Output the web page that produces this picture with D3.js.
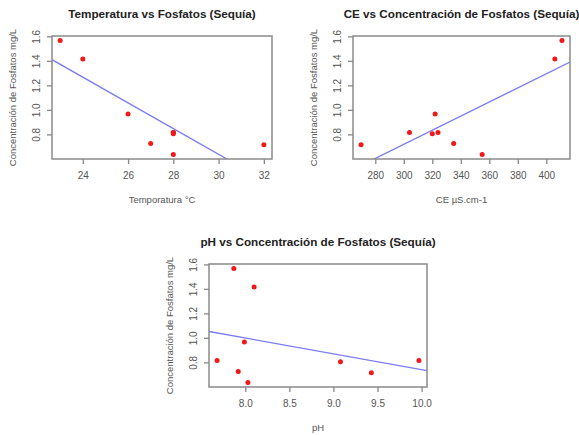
<!DOCTYPE html>
<html>
<head>
    <script src="https://cdn.jsdelivr.net/npm/d3@7"></script>
    <style>
        html, body {
            padding: 0;
            margin: 0;
            background: white;
        }
        text {
            font-family: "Liberation Sans", Arial, sans-serif;
        }
    </style>
</head>
<body>

<script>
    var width = 579;
    var height = 435;

    // data (same samples, same order, in every panel)
    var fosfatos = [1.57, 1.42, 0.97, 0.73, 0.82, 0.82, 0.81, 0.64, 0.72];
    var temperatura = [23, 24, 26, 27, 28, 28, 28, 28, 32];
    var ce = [411, 406, 322, 335, 304, 324, 320, 355, 270];
    var ph = [7.87, 8.10, 7.99, 7.92, 7.68, 9.97, 9.08, 8.03, 9.43];

    var yTicks = [0.8, 1.0, 1.2, 1.4, 1.6];
    var tempTicks = [24, 26, 28, 30, 32];
    var ceTicks = [280, 300, 320, 340, 360, 380, 400];
    var phTicks = [8.0, 8.5, 9.0, 9.5, 10.0];

    var titles = ["Temperatura vs Fosfatos (Sequía)",
                  "CE vs Concentración de Fosfatos (Sequía)",
                  "pH vs Concentración de Fosfatos (Sequía)"];
    var xLabels = ["Temporatura °C", "CE µS.cm-1", "pH"];
    var yLabel = "Concentración de Fosfatos mg/L";

    var svg = d3.select('body').append('svg')
        .attr('width', width)
        .attr('height', height);

    // R style range: data range padded by 4% each side
    function padded(v) {
        var e = d3.extent(v);
        var p = (e[1] - e[0]) * 0.04;
        return [e[0] - p, e[1] + p];
    }

    // least squares fit, like abline(lm(y ~ x))
    function fit(xs, ys) {
        var mx = d3.mean(xs), my = d3.mean(ys);
        var sxy = d3.sum(xs, function (d, i) { return (d - mx) * (ys[i] - my); });
        var sxx = d3.sum(xs, function (d) { return (d - mx) * (d - mx); });
        var b = sxy / sxx;
        return { a: my - b * mx, b: b };
    }

    function drawPanel(id, box, xs, xTicks, xFmt, title, xLabel) {
        var x = d3.scaleLinear().domain(padded(xs)).range([box.left, box.right]);
        var y = d3.scaleLinear().domain(padded(fosfatos)).range([box.bottom, box.top]);
        var g = svg.append('g');
        var gray = '#555';

        g.append('clipPath').attr('id', 'clip' + id)
            .append('rect')
            .attr('x', box.left).attr('y', box.top)
            .attr('width', box.right - box.left).attr('height', box.bottom - box.top);

        // regression line
        var m = fit(xs, fosfatos);
        var xd = x.domain();
        g.append('line')
            .attr('clip-path', 'url(#clip' + id + ')')
            .attr('x1', x(xd[0])).attr('y1', y(m.a + m.b * xd[0]))
            .attr('x2', x(xd[1])).attr('y2', y(m.a + m.b * xd[1]))
            .style('stroke', '#7b7bf2')
            .style('stroke-width', 1.3);

        // points
        g.selectAll('circle').data(xs).enter().append('circle')
            .attr('cx', function (d) { return x(d); })
            .attr('cy', function (d, i) { return y(fosfatos[i]); })
            .attr('r', 2.5)
            .style('fill', '#f01818');

        // axes
        var xAxis = g.append('g')
            .attr('transform', 'translate(0,' + box.bottom + ')')
            .call(d3.axisBottom(x).tickValues(xTicks).tickFormat(d3.format(xFmt))
                .tickSizeOuter(0).tickSizeInner(5).tickPadding(8));
        var yAxis = g.append('g')
            .attr('transform', 'translate(' + box.left + ',0)')
            .call(d3.axisLeft(y).tickValues(yTicks).tickFormat(d3.format('.1f'))
                .tickSizeOuter(0).tickSizeInner(5).tickPadding(4));
        [xAxis, yAxis].forEach(function (a) {
            a.select('.domain').remove();
            a.selectAll('line').style('stroke', '#888').style('stroke-width', 1.3);
            a.selectAll('text').style('fill', gray).style('font-size', '10px');
        });
        // R default: y tick labels parallel to the axis
        yAxis.selectAll('text')
            .attr('x', null).attr('dy', null)
            .attr('text-anchor', 'middle')
            .attr('transform', function (d) { return 'translate(' + (-12) + ',' + y(d) + ') rotate(-90)'; })
            .attr('y', 0);
        yAxis.selectAll('.tick').attr('transform', null);
        yAxis.selectAll('.tick line')
            .attr('transform', function (d) { return 'translate(0,' + y(d) + ')'; });

        // plot box
        g.append('rect')
            .attr('x', box.left).attr('y', box.top)
            .attr('width', box.right - box.left).attr('height', box.bottom - box.top)
            .style('fill', 'none')
            .style('stroke', '#8a8a8a')
            .style('stroke-width', 1.5);

        var cx = (box.left + box.right) / 2;
        g.append('text')
            .attr('x', cx).attr('y', box.top - 18)
            .attr('text-anchor', 'middle')
            .style('font-weight', 'bold')
            .style('font-size', '11.7px')
            .style('fill', '#222')
            .text(title);
        g.append('text')
            .attr('x', cx).attr('y', box.bottom + 44)
            .attr('text-anchor', 'middle')
            .style('font-size', '9.5px')
            .style('fill', gray)
            .text(xLabel);
        g.append('text')
            .attr('transform', 'translate(' + (box.left - 36) + ',' + ((box.top + box.bottom) / 2) + ') rotate(-90)')
            .attr('text-anchor', 'middle')
            .style('font-size', '9.5px')
            .style('fill', gray)
            .text(yLabel);
    }

    drawPanel(1, { left: 52, right: 272, top: 36, bottom: 159 }, temperatura, tempTicks, 'd', titles[0], xLabels[0]);
    drawPanel(2, { left: 353, right: 570, top: 36, bottom: 159 }, ce, ceTicks, 'd', titles[1], xLabels[1]);
    drawPanel(3, { left: 209, right: 427, top: 264, bottom: 387 }, ph, phTicks, '.1f', titles[2], xLabels[2]);
</script>
</body>
</html>
